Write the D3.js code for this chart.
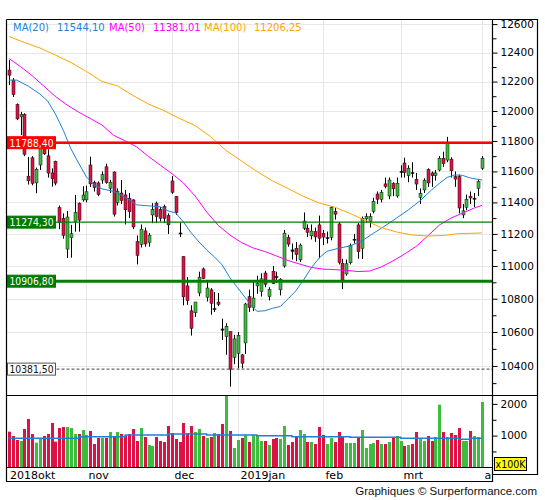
<!DOCTYPE html>
<html>
<head>
<meta charset="utf-8">
<script src="https://cdn.jsdelivr.net/npm/d3@7"></script>
<style>
  html, body { margin: 0; padding: 0; background: #fff; }
  svg { display: block; font-family: "DejaVu Sans", Verdana, sans-serif; }
</style>
</head>
<body>
<div id="chart"></div>
<script>
// --- DATA ---
const dates = [
  "2018-10-04","2018-10-05","2018-10-08","2018-10-09","2018-10-10","2018-10-11","2018-10-12","2018-10-15","2018-10-16","2018-10-17",
  "2018-10-18","2018-10-19","2018-10-22","2018-10-23","2018-10-24","2018-10-25","2018-10-26","2018-10-29","2018-10-30","2018-10-31",
  "2018-11-01","2018-11-02","2018-11-05","2018-11-06","2018-11-07","2018-11-08","2018-11-09","2018-11-12","2018-11-13","2018-11-14",
  "2018-11-15","2018-11-16","2018-11-19","2018-11-20","2018-11-21","2018-11-22","2018-11-23","2018-11-26","2018-11-27","2018-11-28",
  "2018-11-29","2018-11-30","2018-12-03","2018-12-04","2018-12-05","2018-12-06","2018-12-07","2018-12-10","2018-12-11","2018-12-12",
  "2018-12-13","2018-12-14","2018-12-17","2018-12-18","2018-12-19","2018-12-20","2018-12-21","2018-12-27","2018-12-28","2019-01-02",
  "2019-01-03","2019-01-04","2019-01-07","2019-01-08","2019-01-09","2019-01-10","2019-01-11","2019-01-14","2019-01-15","2019-01-16",
  "2019-01-17","2019-01-18","2019-01-21","2019-01-22","2019-01-23","2019-01-24","2019-01-25","2019-01-28","2019-01-29","2019-01-30",
  "2019-01-31","2019-02-01","2019-02-04","2019-02-05","2019-02-06","2019-02-07","2019-02-08","2019-02-11","2019-02-12","2019-02-13",
  "2019-02-14","2019-02-15","2019-02-18","2019-02-19","2019-02-20","2019-02-21","2019-02-22","2019-02-25","2019-02-26","2019-02-27",
  "2019-02-28","2019-03-01","2019-03-04","2019-03-05","2019-03-06","2019-03-07","2019-03-08","2019-03-11","2019-03-12","2019-03-13",
  "2019-03-14","2019-03-15","2019-03-18","2019-03-19","2019-03-20","2019-03-21","2019-03-22","2019-03-25","2019-03-26","2019-03-27",
  "2019-03-28","2019-03-29","2019-04-01"
];

const opens = [
  12279,12210,12044,11961,11976,11569,11689,11525,11642,11762,
  11702,11590,11666,11367,11298,11105,11176,11278,11395,11416,
  11416,11642,11528,11525,11544,11630,11491,11596,11400,11460,
  11448,11427,11416,11152,11135,11219,11146,11320,11395,11356,
  11373,11315,11538,11437,11206,11058,10878,10727,10715,10835,
  10982,10809,10854,10737,10780,10618,10573,10603,10451,10474,
  10465,10535,10812,10746,10878,10843,10957,10813,10968,10935,
  10854,11000,11177,11100,11110,11038,11236,11236,11188,11214,
  11257,11204,11170,11179,11342,11263,11017,10951,11020,11165,
  11257,11110,11295,11280,11342,11454,11420,11519,11441,11520,
  11441,11595,11655,11572,11592,11548,11433,11480,11612,11590,
  11572,11609,11686,11674,11680,11566,11566,11320,11369,11440,
  11420,11491,11620
];
const highs = [
  12348,12224,12051,11994,11985,11695,11700,11625,11784,11820,
  11745,11620,11670,11380,11330,11345,11257,11448,11400,11504,
  11508,11696,11540,11535,11600,11650,11545,11600,11490,11545,
  11480,11460,11420,11190,11260,11240,11205,11395,11405,11370,
  11385,11330,11570,11440,11272,11060,10932,10760,10780,10965,
  10990,10905,10865,10840,10835,10680,10652,10603,10583,10600,
  10470,10775,10855,10905,10940,10955,10970,10870,11000,10965,
  10925,11225,11195,11140,11150,11140,11336,11260,11260,11240,
  11316,11225,11215,11375,11365,11275,11045,11040,11140,11200,
  11270,11310,11330,11330,11430,11470,11480,11560,11560,11530,
  11560,11640,11690,11640,11660,11590,11490,11555,11620,11600,
  11610,11700,11729,11827,11692,11600,11580,11390,11450,11470,
  11460,11550,11700
];
const lows = [
  12176,12095,11939,11839,11700,11515,11510,11459,11609,11708,
  11560,11501,11510,11230,11170,11050,11052,11214,11214,11405,
  11400,11500,11470,11440,11520,11520,11460,11310,11380,11390,
  11260,11300,11230,11010,11115,11120,11120,11268,11268,11278,
  11270,11200,11455,11320,11180,10760,10763,10579,10690,10815,
  10920,10783,10703,10720,10755,10553,10465,10280,10410,10386,
  10386,10470,10720,10725,10830,10813,10870,10790,10890,10895,
  10820,10990,11120,11040,11030,11025,11225,11180,11165,11150,
  11048,11130,11140,11160,11290,11010,10858,10940,11010,11140,
  11045,11044,11270,11240,11330,11390,11400,11490,11420,11440,
  11430,11560,11560,11530,11560,11480,11390,11460,11500,11500,
  11540,11600,11630,11660,11560,11500,11330,11300,11350,11390,
  11370,11440,11610
];
const closes = [
  12244,12111,11947,11977,11712,11539,11523,11614,11760,11715,
  11589,11553,11524,11274,11191,11307,11201,11335,11287,11447,
  11468,11519,11495,11450,11579,11527,11529,11325,11472,11412,
  11353,11341,11244,11066,11230,11137,11192,11354,11309,11299,
  11298,11257,11465,11335,11200,10811,10788,10622,10780,10931,
  10924,10865,10772,10740,10766,10611,10634,10381,10559,10580,
  10416,10768,10747,10804,10893,10921,10888,10856,10892,10931,
  10919,11205,11136,11090,11071,11130,11281,11210,11218,11181,
  11173,11180,11176,11368,11325,11022,10907,11014,11126,11167,
  11089,11299,11309,11310,11405,11420,11464,11502,11544,11487,
  11523,11600,11593,11620,11588,11518,11458,11543,11525,11572,
  11590,11686,11650,11788,11604,11550,11364,11346,11420,11428,
  11427,11534,11686
];
// volume, in units of 100K
const volume = [
  1124,988,861,830,1208,1524,1051,777,903,988,
  1051,1398,809,1240,1271,1271,1240,1051,1051,1177,
  1019,1145,735,924,924,924,1114,988,1114,1051,
  1000,1051,1208,830,1240,956,704,672,956,830,
  798,1303,1082,893,798,1398,1082,1303,1114,1208,
  988,924,956,1082,1051,1366,2260,1145,609,861,
  924,1019,798,1019,1019,830,830,704,893,924,
  893,1303,704,798,988,1177,1051,798,798,735,
  1271,1019,735,924,798,1114,956,767,767,767,
  924,1177,609,735,767,861,735,735,798,924,
  988,830,672,704,735,1114,893,830,988,830,
  956,1976,1114,956,1082,1019,1240,830,830,1145,
  988,956,2060
];
// volume average, drawn as steps: first index of each step and its level
const volMaStart = [0, 18, 30, 41, 51, 64, 73, 88, 101, 116, 119];
const volMaValue = [915, 966, 1019, 1051, 1019, 998, 966, 946, 915, 883, 915];

// moving averages: [index, value]
const ma20 = [
  [0,12210],[2,12210],[5,12169],[8,12115],[10,12067],[12,11980],[14,11872],[16,11747],[18,11654],[20,11563],
  [22,11512],[24,11487],[27,11471],[30,11433],[33,11384],[36,11378],[39,11372],[41,11346],[43,11333],[45,11276],
  [47,11207],[49,11150],[51,11100],[53,11056],[55,11007],[57,10927],[59,10866],[61,10805],[63,10745],[64,10724],
  [66,10727],[68,10742],[70,10753],[72,10800],[74,10848],[76,10915],[78,10989],[80,11050],[82,11091],[85,11110],
  [88,11125],[91,11156],[94,11204],[97,11251],[100,11301],[103,11352],[106,11410],[109,11480],[111,11522],[113,11561],
  [115,11577],[117,11574],[119,11557],[122,11544.10]
];
const ma50 = [
  [0,12359],[3,12303],[6,12240],[9,12169],[12,12098],[15,12041],[18,11992],[21,11950],[24,11906],[27,11838],
  [30,11800],[33,11760],[36,11697],[39,11642],[42,11586],[45,11525],[48,11441],[51,11339],[54,11253],[57,11193],
  [60,11146],[63,11112],[66,11090],[69,11062],[72,11034],[75,11012],[78,10991],[81,10981],[84,10978],[87,10973],
  [90,10966],[93,10969],[96,10994],[99,11031],[102,11074],[105,11121],[108,11187],[111,11256],[114,11300],[117,11332],
  [120,11364],[122,11381.01]
];
const ma100 = [
  [0,12513],[4,12471],[8,12432],[12,12383],[16,12331],[20,12269],[24,12201],[28,12170],[32,12105],[36,12047],
  [40,12003],[44,11950],[48,11903],[52,11829],[56,11737],[60,11668],[64,11599],[68,11538],[72,11489],[76,11438],
  [80,11396],[84,11370],[88,11329],[92,11285],[96,11240],[100,11212],[104,11193],[108,11187],[112,11190],[116,11202],
  [122,11206.25]
];

const legendNames = ["MA(20)", "MA(50)", "MA(100)"];
const legendValues = ["11544,10", "11381,01", "11206,25"];

const refValues = [11788.40, 11274.30, 10906.80, 10381.50];
const refLabels = ["11788,40", "11274,30", "10906,80", "10381,50"];

const priceTicks = [10400, 10600, 10800, 11000, 11200, 11400, 11600, 11800, 12000, 12200, 12400, 12600];
const priceMinorTicks = [10300, 10500, 10700, 10900, 11100, 11300, 11500, 11700, 11900, 12100, 12300, 12500];
const volTicks = [1000, 2000];
const volMinorTicks = [500, 1500];
const monthLabels = ["2018okt", "nov", "dec", "2019jan", "feb", "mrt", "a"];

// --- LAYOUT ---
const W = 545, H = 500;
const plotLeft = 6.5, axisX = 492.5, plotRight = 537.5;
const plotTop = 19.5, priceBottom = 395.5, volBottom = 467.5, dateBottom = 481.5, colBottom = 474.5;

const colUp = "#3dbd3d", colDown = "#dd1144";
const colMa = ["#1f80d6", "#ff00ff", "#ffa500"];
const refStyle = [
  { stroke: "#ff0000", width: 2.5, dash: null, box: "#ff0000", text: "#fff", border: "#ff0000" },
  { stroke: "#008000", width: 1.2, dash: null, box: "#007a00", text: "#fff", border: "#007a00" },
  { stroke: "#008000", width: 3, dash: null, box: "#007a00", text: "#fff", border: "#007a00" },
  { stroke: "#444", width: 1, dash: "3,2", box: "#fff", text: "#111", border: "#555" }
];

const x = d3.scaleLinear().domain([0, dates.length - 1]).range([8.9, 482]);
const y = d3.scaleLog().domain([10230, 12634]).range([395.3, 19.3]);
const yv = d3.scaleLinear().domain([0, 1000]).range([467.3, 435.6]);

const svg = d3.select("#chart").append("svg")
  .attr("width", W)
  .attr("height", H);

svg.append("defs").append("clipPath").attr("id", "plot-clip")
  .append("rect").attr("x", plotLeft).attr("y", plotTop)
  .attr("width", axisX - plotLeft).attr("height", volBottom - plotTop);

const gridGroup = svg.append("g");
const plot = svg.append("g").attr("clip-path", "url(#plot-clip)");

// month starts
const parse = d3.timeParse("%Y-%m-%d");
const parsed = dates.map(parse);
const monthStarts = [0];
parsed.forEach((d, i) => {
  if (i > 0 && d.getMonth() !== parsed[i - 1].getMonth()) monthStarts.push(i);
});

// --- GRID ---
priceTicks.forEach(v => {
  gridGroup.append("line")
    .attr("x1", plotLeft).attr("x2", axisX)
    .attr("y1", Math.round(y(v)) + 0.5).attr("y2", Math.round(y(v)) + 0.5)
    .attr("stroke", "#e8e8e8");
});
monthStarts.slice(1).forEach(i => {
  const gx = Math.round(x(i)) + 0.5;
  gridGroup.append("line")
    .attr("x1", gx).attr("x2", gx)
    .attr("y1", plotTop).attr("y2", volBottom)
    .attr("stroke", "#e8e8e8");
});

// --- VOLUME ---
const candleColor = i => {
  if (Math.abs(closes[i] - opens[i]) <= 10) return "#111";
  return closes[i] > opens[i] ? colUp : colDown;
};
const volColor = i => closes[i] >= opens[i] ? colUp : colDown;

plot.append("g").selectAll("rect")
  .data(volume)
  .join("rect")
  .attr("x", (d, i) => Math.round(x(i)) - 1)
  .attr("y", d => yv(d))
  .attr("width", 3)
  .attr("height", d => yv(0) - yv(d))
  .attr("fill", (d, i) => volColor(i));

const volSteps = volMaStart.map((s, k) => [s, volMaValue[k]]);
volSteps.push([dates.length - 1, volMaValue[volMaValue.length - 1]]);
plot.append("path")
  .datum(volSteps)
  .attr("d", d3.line().x(d => x(d[0])).y(d => yv(d[1])).curve(d3.curveStepAfter))
  .attr("fill", "none")
  .attr("stroke", colMa[0])
  .attr("stroke-width", 1.5);

// --- CANDLES ---
const candles = plot.append("g").selectAll("g")
  .data(dates)
  .join("g");

candles.append("line")
  .attr("x1", (d, i) => Math.round(x(i)) + 0.5)
  .attr("x2", (d, i) => Math.round(x(i)) + 0.5)
  .attr("y1", (d, i) => y(highs[i]))
  .attr("y2", (d, i) => y(lows[i]))
  .attr("stroke", "#000")
  .attr("stroke-width", 1);

candles.append("rect")
  .attr("x", (d, i) => Math.round(x(i)) - 1)
  .attr("y", (d, i) => y(Math.max(opens[i], closes[i])))
  .attr("width", 3)
  .attr("height", (d, i) => Math.max(1, y(Math.min(opens[i], closes[i])) - y(Math.max(opens[i], closes[i]))))
  .attr("fill", (d, i) => candleColor(i))
  .attr("stroke", "#111")
  .attr("stroke-width", 0.5);

// --- MOVING AVERAGES ---
const maLine = d3.line().x(d => x(d[0])).y(d => y(d[1]));
[ma20, ma50, ma100].forEach((series, k) => {
  plot.append("path")
    .datum(series)
    .attr("d", maLine)
    .attr("fill", "none")
    .attr("stroke", colMa[k])
    .attr("stroke-width", 1);
});

// --- REFERENCE LINES ---
refValues.forEach((v, k) => {
  const st = refStyle[k];
  const ly = y(v);
  svg.append("line")
    .attr("x1", plotLeft).attr("x2", axisX)
    .attr("y1", ly).attr("y2", ly)
    .attr("stroke", st.stroke)
    .attr("stroke-width", st.width)
    .attr("stroke-dasharray", st.dash);
  svg.append("rect")
    .attr("x", 7.5).attr("y", ly - 6)
    .attr("width", 48).attr("height", 12)
    .attr("fill", st.box)
    .attr("stroke", st.border);
  svg.append("text")
    .attr("x", 9.5).attr("y", ly + 3.8)
    .attr("fill", st.text)
    .attr("textLength", 44)
    .attr("lengthAdjust", "spacingAndGlyphs")
    .style("font-size", "10px")
    .text(refLabels[k]);
});

// --- LEGEND ---
const legendX = [13, 57, 109, 153, 204, 254];
legendNames.forEach((name, k) => {
  svg.append("text").attr("x", legendX[k * 2]).attr("y", 31)
    .attr("fill", colMa[k]).style("font-size", "10px").text(name);
  svg.append("text").attr("x", legendX[k * 2 + 1]).attr("y", 31)
    .attr("fill", colMa[k]).style("font-size", "10px").text(legendValues[k]);
});

// --- AXES ---
const axisFont = g => g.selectAll("text")
  .style("font-family", "'DejaVu Sans', Verdana, sans-serif")
  .style("font-size", "10.5px")
  .attr("fill", "#000");

svg.append("g")
  .attr("transform", `translate(${axisX},0)`)
  .call(d3.axisRight(y).tickValues(priceMinorTicks).tickSize(4).tickFormat(""))
  .call(g => g.select(".domain").remove());
svg.append("g")
  .attr("transform", `translate(${axisX},0)`)
  .call(d3.axisRight(y).tickValues(priceTicks).tickSize(5).tickPadding(3).tickFormat(d3.format("d")))
  .call(g => g.select(".domain").remove())
  .call(axisFont);

svg.append("g")
  .attr("transform", `translate(${axisX},0)`)
  .call(d3.axisRight(yv).tickValues(volMinorTicks).tickSize(4).tickFormat(""))
  .call(g => g.select(".domain").remove());
svg.append("g")
  .attr("transform", `translate(${axisX},0)`)
  .call(d3.axisRight(yv).tickValues(volTicks).tickSize(5).tickPadding(3).tickFormat(d3.format("d")))
  .call(g => g.select(".domain").remove())
  .call(axisFont);

// x100K unit box
svg.append("rect")
  .attr("x", 494.5).attr("y", 457.5).attr("width", 32).attr("height", 13)
  .attr("fill", "#ffff00").attr("stroke", "#000");
svg.append("text")
  .attr("x", 495.5).attr("y", 468)
  .attr("textLength", 30)
  .attr("lengthAdjust", "spacingAndGlyphs")
  .style("font-size", "10px")
  .text("x100K");

// month labels
monthStarts.forEach((i, k) => {
  svg.append("text")
    .attr("x", k === 0 ? 10 : Math.round(x(i)) + 2.5)
    .attr("y", 478.5)
    .style("font-size", "11px")
    .text(monthLabels[k]);
});

// --- FRAME ---
const frame = svg.append("g").attr("fill", "none").attr("stroke", "#000").attr("stroke-width", 1.2);
frame.append("path").attr("d",
  `M${plotLeft},${plotTop}H${plotRight}V${colBottom}H${axisX}` +
  `M${plotLeft},${plotTop}V${dateBottom}H${axisX}V${plotTop}` +
  `M${plotLeft},${priceBottom}H${plotRight}` +
  `M${plotLeft},${volBottom}H${axisX}`);

// credit
svg.append("text")
  .attr("x", 537).attr("y", 495)
  .attr("text-anchor", "end")
  .style("font-family", "'Liberation Sans', Arial, sans-serif")
  .style("font-size", "11.5px")
  .attr("fill", "#111")
  .text("Graphiques © Surperformance.com");
</script>
</body>
</html>
